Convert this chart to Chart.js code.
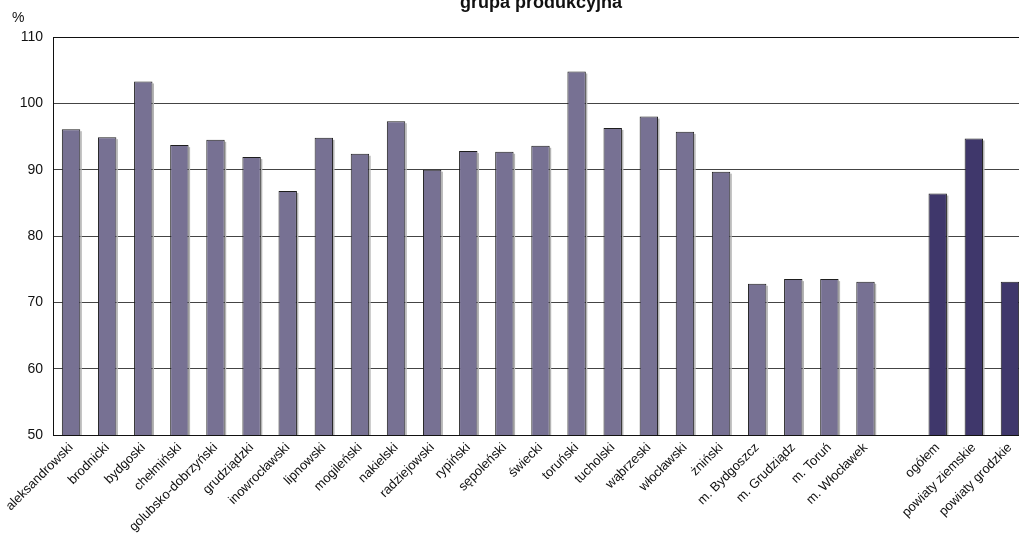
<!DOCTYPE html>
<html>
<head>
<meta charset="utf-8">
<script src="https://cdn.jsdelivr.net/npm/chart.js@4.4.1/dist/chart.umd.min.js"></script>
<style>
  html, body { margin: 0; padding: 0; background: #ffffff; overflow: hidden; }
  #wrap { position: relative; width: 1040px; height: 536px; }
</style>
</head>
<body>
<div id="wrap"><canvas id="chart"></canvas></div>
<script>
// Powiaty województwa kujawsko-pomorskiego – grupa produkcyjna (%)
const districts = [
  'aleksandrowski', 'brodnicki', 'bydgoski', 'chełmiński', 'golubsko-dobrzyński',
  'grudziądzki', 'inowrocławski', 'lipnowski', 'mogileński', 'nakielski',
  'radziejowski', 'rypiński', 'sępoleński', 'świecki', 'toruński', 'tucholski',
  'wąbrzeski', 'włocławski', 'żniński', 'm. Bydgoszcz', 'm. Grudziądz',
  'm. Toruń', 'm. Włocławek'
];
const districtValues = [
  96.1, 94.9, 103.3, 93.7, 94.5,
  91.9, 86.8, 94.8, 92.4, 97.3,
  90.0, 92.8, 92.7, 93.6, 104.8, 96.3,
  98.0, 95.7, 89.7, 72.8, 73.5,
  73.5, 73.1
];
const summaryLabels = ['ogółem', 'powiaty ziemskie', 'powiaty grodzkie'];
const summaryValues = [86.4, 94.7, 73.1];

const yTicks = [50, 60, 70, 80, 90, 100, 110];

const FONT = 'Arial, "Liberation Sans", sans-serif';
const LIGHT = '#777193';
const DARK = '#3f376b';

const labels = [...districts, '', ...summaryLabels];
const values = [...districtValues, null, ...summaryValues];
const colors = labels.map((_, i) => (i > districts.length ? DARK : LIGHT));

// Soft gray shade along the right edge of each bar
const barShade = {
  id: 'barShade',
  beforeDatasetsDraw(chart) {
    const ctx = chart.ctx;
    const meta = chart.getDatasetMeta(0);
    const bottom = chart.chartArea.bottom;
    ctx.save();
    ctx.fillStyle = '#b4b4b4';
    meta.data.forEach((bar, i) => {
      if (values[i] == null) return;
      const right = bar.x + bar.width / 2;
      const top = bar.y + 2;
      ctx.fillRect(right, top, 1.5, Math.min(bar.base, bottom) - top);
    });
    ctx.restore();
  }
};

// Title and unit label drawn in the top margin
const decorations = {
  id: 'decorations',
  afterDraw(chart) {
    const ctx = chart.ctx;
    ctx.save();
    ctx.fillStyle = '#111';
    ctx.textBaseline = 'alphabetic';
    ctx.textAlign = 'center';
    ctx.font = 'bold 18px ' + FONT;
    ctx.fillText('grupa produkcyjna', 541, 8);
    ctx.textAlign = 'left';
    ctx.font = '14px ' + FONT;
    ctx.fillText('%', 12, 22);
    ctx.restore();
  }
};

new Chart(document.getElementById('chart'), {
  type: 'bar',
  data: {
    labels: labels,
    datasets: [{
      data: values,
      backgroundColor: colors,
      borderColor: '#1e1e1e',
      borderWidth: 1,
      borderSkipped: 'bottom',
      categoryPercentage: 1.0,
      barPercentage: 0.51
    }]
  },
  options: {
    responsive: true,
    maintainAspectRatio: false,
    animation: false,
    layout: { padding: { left: 0, right: 12, top: 37, bottom: 0 } },
    plugins: {
      legend: { display: false },
      title: { display: false },
      tooltip: { enabled: false }
    },
    scales: {
      x: {
        grid: { display: false, drawTicks: false },
        border: { display: true, color: '#111', width: 1 },
        ticks: {
          autoSkip: false,
          minRotation: 45,
          maxRotation: 45,
          padding: 5,
          color: '#111',
          font: { family: FONT, size: 13 }
        },
        afterFit(scale) { scale.height = 101; }
      },
      y: {
        min: 50,
        max: 110,
        afterBuildTicks(scale) { scale.ticks = yTicks.map(v => ({ value: v })); },
        grid: {
          drawTicks: false,
          color: (c) => (c.tick && c.tick.value === 110 ? '#111' : '#444'),
          lineWidth: 1
        },
        border: { display: true, color: '#111', width: 1 },
        ticks: {
          padding: 10,
          color: '#111',
          font: { family: FONT, size: 14 }
        },
        afterFit(scale) { scale.width = 53; }
      }
    }
  },
  plugins: [barShade, decorations]
});
</script>
</body>
</html>
